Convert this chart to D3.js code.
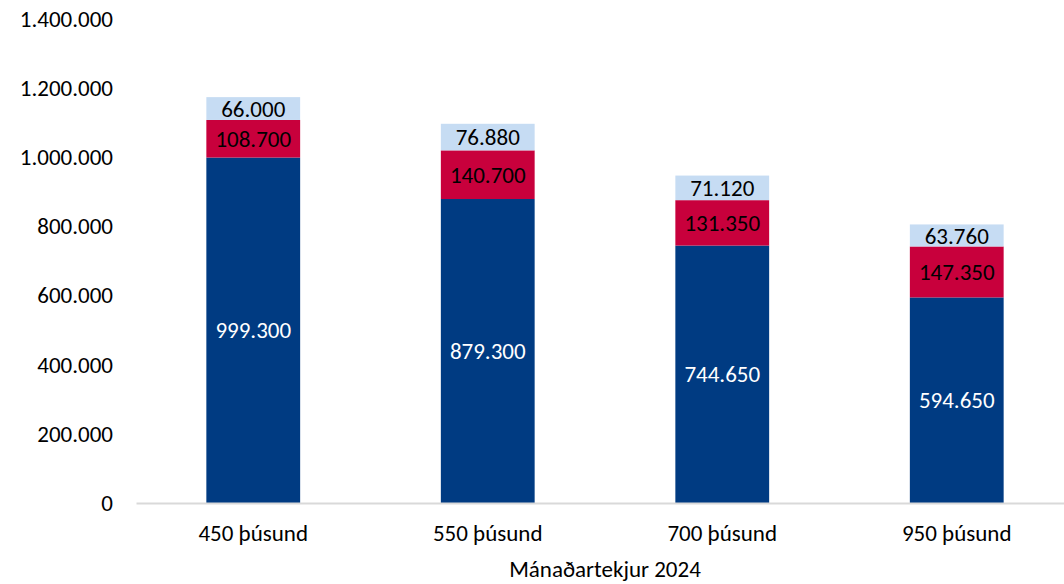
<!DOCTYPE html>
<html><head><meta charset="utf-8">
<script src="https://cdn.jsdelivr.net/npm/d3@7"></script>
<style>body{margin:0;background:#fff}svg{display:block}text{font-family:Carlito,Lato,"Open Sans",sans-serif}</style>
</head><body><svg id="c" width="1064" height="584"></svg>
<script>
const categories = ["450 þúsund","550 þúsund","700 þúsund","950 þúsund"];
const seriesNames = ["s1","s2","s3"];
const s1 = [999300, 879300, 744650, 594650];
const s2 = [108700, 140700, 131350, 147350];
const s3 = [66000, 76880, 71120, 63760];
const yTicks = [0,200000,400000,600000,800000,1000000,1200000,1400000];
const xTitle = "Mánaðartekjur 2024";
const colors = ["#003B82","#C8003C","#C6DCF3"];
const labelColors = ["#ffffff","#000000","#000000"];

const svg = d3.select("#c");
const fs = 23;
const x = d3.scaleBand().domain(categories).range([136,1074]).paddingInner(0.6).paddingOuter(0.3);
const y = d3.scaleLinear().domain([0,1400000]).range([503,19]);
const fmt = v => d3.format(",")(v).replace(/,/g,".");

const data = categories.map((c,i)=>({cat:c, s1:s1[i], s2:s2[i], s3:s3[i]}));
const stack = d3.stack().keys(seriesNames)(data);

// y axis
const ya = svg.append("g").attr("transform","translate(113,0)")
  .call(d3.axisLeft(y).tickValues(yTicks).tickSize(0).tickPadding(0).tickFormat(fmt));
ya.select(".domain").remove();
ya.selectAll("text").attr("font-size",fs).attr("fill","#000").style("font-family","Carlito,Lato,sans-serif");

// bars
stack.forEach((layer,li)=>{
  const g = svg.append("g");
  g.selectAll("rect").data(layer).join("rect")
    .attr("x",d=>x(d.data.cat)).attr("width",x.bandwidth())
    .attr("y",d=>y(d[1])).attr("height",d=>y(d[0])-y(d[1]))
    .attr("fill",colors[li]);
  g.selectAll("text").data(layer).join("text")
    .attr("x",d=>x(d.data.cat)+x.bandwidth()/2)
    .attr("y",d=>(y(d[0])+y(d[1]))/2)
    .attr("dy","0.35em").attr("text-anchor","middle")
    .attr("font-size",fs).attr("fill",labelColors[li])
    .text(d=>fmt(d[1]-d[0]));
});

// x axis
const xa = svg.append("g").attr("transform","translate(0,503)")
  .call(d3.axisBottom(x).tickSize(0).tickPadding(22));
xa.select(".domain").attr("stroke","#D9D9D9").attr("stroke-width",2);
xa.selectAll("text").attr("font-size",fs).attr("fill","#000").style("font-family","Carlito,Lato,sans-serif");

svg.append("text").attr("x",(136+1074)/2).attr("y",577).attr("text-anchor","middle")
  .attr("font-size",fs).attr("fill","#000").text(xTitle);
</script></body></html>
